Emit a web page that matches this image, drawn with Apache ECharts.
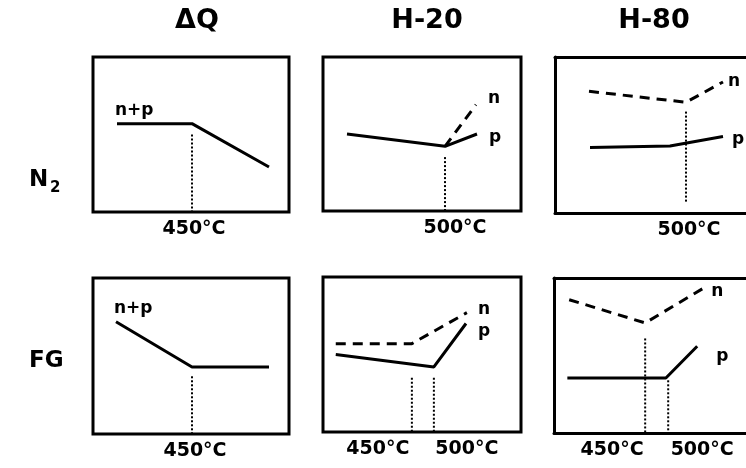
<!DOCTYPE html>
<html>
<head>
<meta charset="utf-8">
<script src="https://cdn.jsdelivr.net/npm/echarts@6/dist/echarts.min.js"></script>
<style>
  html, body { margin: 0; padding: 0; background: #fff; }
  #chart { width: 746px; height: 468px; }
</style>
</head>
<body>
<div id="chart"></div>
<script>
// Column / row headings
const columnTitles = ['ΔQ', 'H-20', 'H-80'];
const rowTitles = ['N', 'FG'];

// ---- ΔQ, N2 atmosphere ----
const dqN2Temp = [375, 450, 527];
const dqN2NP = [57, 57, 29];
const dqN2Ticks = [450];
const dqN2MarkTemp = [450];
const dqN2MarkTop = [50];
const dqN2MarkBottom = [0];

// ---- H-20, N2 atmosphere ----
const h20N2PTemp = [402, 500, 532];
const h20N2P = [50, 42, 50];
const h20N2NTemp = [500, 531];
const h20N2N = [42, 69];
const h20N2Ticks = [500];
const h20N2MarkTemp = [500];
const h20N2MarkTop = [35];
const h20N2MarkBottom = [0];

// ---- H-80, N2 atmosphere ----
const h80N2NTemp = [403, 500, 537];
const h80N2N = [78, 71, 84];
const h80N2PTemp = [404, 484, 537];
const h80N2P = [42, 43, 49];
const h80N2Ticks = [500];
const h80N2MarkTemp = [500];
const h80N2MarkTop = [65];
const h80N2MarkBottom = [7];

// ---- ΔQ, FG atmosphere ----
const dqFGTemp = [374, 450, 527];
const dqFGNP = [72, 43, 43];
const dqFGTicks = [450];
const dqFGMarkTemp = [450];
const dqFGMarkTop = [37];
const dqFGMarkBottom = [0];

// ---- H-20, FG atmosphere ----
const h20FGNTemp = [277, 450, 575];
const h20FGN = [57, 57, 77];
const h20FGPTemp = [277, 500, 573];
const h20FGP = [50, 42, 70];
const h20FGTicks = [450, 500];
const h20FGMarkTemp = [450, 500];
const h20FGMarkTop = [35, 35];
const h20FGMarkBottom = [0, 0];

// ---- H-80, FG atmosphere ----
const h80FGNTemp = [285, 450, 574];
const h80FGN = [86, 71, 93];
const h80FGPTemp = [281, 495, 563];
const h80FGP = [35.5, 35.5, 56];
const h80FGTicks = [450, 500];
const h80FGMarkTemp = [450, 500];
const h80FGMarkTop = [61, 34];
const h80FGMarkBottom = [0, 0];

const FONT = 'DejaVu Sans';
const pair = (xs, ys) => xs.map((x, i) => [x, ys[i]]);

// Layout of the six panels (pixels) and their temperature windows.
// The right-hand column runs off the page edge, so its frame is open on the right.
const panels = [
  { grid: { left: 93, top: 57, width: 196, height: 155 }, x: [351, 547],
    ticks: dqN2Ticks, labelShift: { 450: 2 },
    curves: [{ name: 'n+p', data: pair(dqN2Temp, dqN2NP), dash: false, startLabel: true }],
    marks: { t: dqN2MarkTemp, top: dqN2MarkTop, bottom: dqN2MarkBottom } },
  { grid: { left: 323, top: 57, width: 198, height: 154 }, x: [378, 576],
    ticks: h20N2Ticks, labelShift: { 500: 10 },
    curves: [
      { name: 'p', data: pair(h20N2PTemp, h20N2P), dash: false, end: [4, 4] },
      { name: 'n', data: pair(h20N2NTemp, h20N2N), dash: true, end: [4, -6] }],
    marks: { t: h20N2MarkTemp, top: h20N2MarkTop, bottom: h20N2MarkBottom } },
  { grid: { left: 555, top: 57, width: 191, height: 156 }, x: [369, 560], open: true,
    ticks: h80N2Ticks, labelShift: { 500: 3 },
    curves: [
      { name: 'n', data: pair(h80N2NTemp, h80N2N), dash: true, end: [-3, 0] },
      { name: 'p', data: pair(h80N2PTemp, h80N2P), dash: false, end: [1, 3] }],
    marks: { t: h80N2MarkTemp, top: h80N2MarkTop, bottom: h80N2MarkBottom } },
  { grid: { left: 93, top: 278, width: 196, height: 156 }, x: [351, 547],
    ticks: dqFGTicks, labelShift: { 450: 3 },
    curves: [{ name: 'n+p', data: pair(dqFGTemp, dqFGNP), dash: false, startLabel: true }],
    marks: { t: dqFGMarkTemp, top: dqFGMarkTop, bottom: dqFGMarkBottom } },
  { grid: { left: 323, top: 277, width: 198, height: 155 }, x: [248, 698],
    ticks: h20FGTicks, labelShift: { 450: -34, 500: 33 },
    curves: [
      { name: 'n', data: pair(h20FGNTemp, h20FGN), dash: true, end: [3, -3] },
      { name: 'p', data: pair(h20FGPTemp, h20FGP), dash: false, end: [4, 8] }],
    marks: { t: h20FGMarkTemp, top: h20FGMarkTop, bottom: h20FGMarkBottom } },
  { grid: { left: 554, top: 278, width: 192, height: 155 }, x: [252, 669], open: true,
    ticks: h80FGTicks, labelShift: { 450: -33, 500: 34 },
    curves: [
      { name: 'n', data: pair(h80FGNTemp, h80FGN), dash: true, end: [1, 3] },
      { name: 'p', data: pair(h80FGPTemp, h80FGP), dash: false, end: [11, 10] }],
    marks: { t: h80FGMarkTemp, top: h80FGMarkTop, bottom: h80FGMarkBottom } }
];

const FRAME = { show: true, onZero: false, lineStyle: { color: '#000', width: 3 } };
const grids = [], xAxes = [], yAxes = [], series = [], topAxes = [];

panels.forEach((p, i) => {
  grids.push(Object.assign({ show: !p.open, borderColor: '#000', borderWidth: 3,
    backgroundColor: 'transparent' }, p.grid));

  // rich styles shift the temperature label sideways by padding one side
  const rich = {};
  p.ticks.forEach(t => {
    const s = (p.labelShift && p.labelShift[t]) || 0;
    rich['t' + t] = {
      fontFamily: FONT, fontWeight: 'bold', fontSize: 19, color: '#000',
      padding: s >= 0 ? [0, 0, 0, 2 * s] : [0, -2 * s, 0, 0]
    };
  });

  xAxes.push({
    gridIndex: i, type: 'value', min: p.x[0], max: p.x[1], position: 'bottom',
    axisLine: p.open ? FRAME : { show: false },
    axisTick: { show: false }, splitLine: { show: false },
    axisLabel: {
      show: true, customValues: p.ticks, margin: 8,
      fontFamily: FONT, fontWeight: 'bold', fontSize: 19, color: '#000',
      formatter: v => '{t' + v + '|' + v + '°C}', rich: rich
    }
  });
  if (p.open) {
    topAxes.push({
      gridIndex: i, type: 'value', min: p.x[0], max: p.x[1], position: 'top',
      axisLine: FRAME, axisTick: { show: false }, axisLabel: { show: false },
      splitLine: { show: false }
    });
  }
  yAxes.push({
    gridIndex: i, type: 'value', min: 0, max: 100,
    axisLine: p.open ? FRAME : { show: false },
    axisTick: { show: false }, axisLabel: { show: false }, splitLine: { show: false }
  });

  p.curves.forEach(c => {
    const data = c.data.map((d, k) => {
      if (c.startLabel && k === 0) {
        return { value: d, label: { show: true, position: 'top', align: 'left',
          distance: 4, offset: [-2, 0], formatter: c.name, fontFamily: FONT, fontWeight: 'bold',
          fontSize: 17, color: '#000' } };
      }
      return d;
    });
    series.push({
      type: 'line', name: c.name, xAxisIndex: i, yAxisIndex: i, data: data,
      symbol: 'circle', symbolSize: 1, showSymbol: true, silent: true, animation: false,
      itemStyle: { color: 'rgba(0,0,0,0)' },
      lineStyle: { color: '#000', width: 3, type: c.dash ? [10, 7] : 'solid' },
      endLabel: c.end ? { show: true, formatter: c.name, offset: c.end,
        fontFamily: FONT, fontWeight: 'bold', fontSize: 17, color: '#000' } : { show: false }
    });
  });

  // dotted drop lines at the transition temperatures
  p.marks.t.forEach((t, k) => {
    series.push({
      type: 'line', xAxisIndex: i, yAxisIndex: i,
      data: [[t, p.marks.top[k]], [t, p.marks.bottom[k]]],
      symbol: 'none', silent: true, animation: false,
      lineStyle: { color: '#000', width: 2, type: [2, 2] }
    });
  });
});

// headings
const graphics = [];
const colCenters = [197, 427, 654];
columnTitles.forEach((t, i) => graphics.push({
  type: 'text', x: colCenters[i], y: 21,
  style: { text: t, fill: '#000', font: 'bold 27px "' + FONT + '"',
    textAlign: 'center', textVerticalAlign: 'middle' }
}));
graphics.push({ type: 'text', x: 29, y: 180,
  style: { text: rowTitles[0], fill: '#000', font: 'bold 23px "' + FONT + '"',
    textAlign: 'left', textVerticalAlign: 'middle' } });
graphics.push({ type: 'text', x: 50, y: 188,
  style: { text: '2', fill: '#000', font: 'bold 15px "' + FONT + '"',
    textAlign: 'left', textVerticalAlign: 'middle' } });
graphics.push({ type: 'text', x: 29, y: 361,
  style: { text: rowTitles[1], fill: '#000', font: 'bold 23px "' + FONT + '"',
    textAlign: 'left', textVerticalAlign: 'middle' } });

const chart = echarts.init(document.getElementById('chart'), null, { renderer: 'canvas' });
chart.setOption({
  animation: false,
  backgroundColor: '#fff',
  grid: grids,
  xAxis: xAxes.concat(topAxes),
  yAxis: yAxes,
  series: series,
  graphic: graphics
});
</script>
</body>
</html>
